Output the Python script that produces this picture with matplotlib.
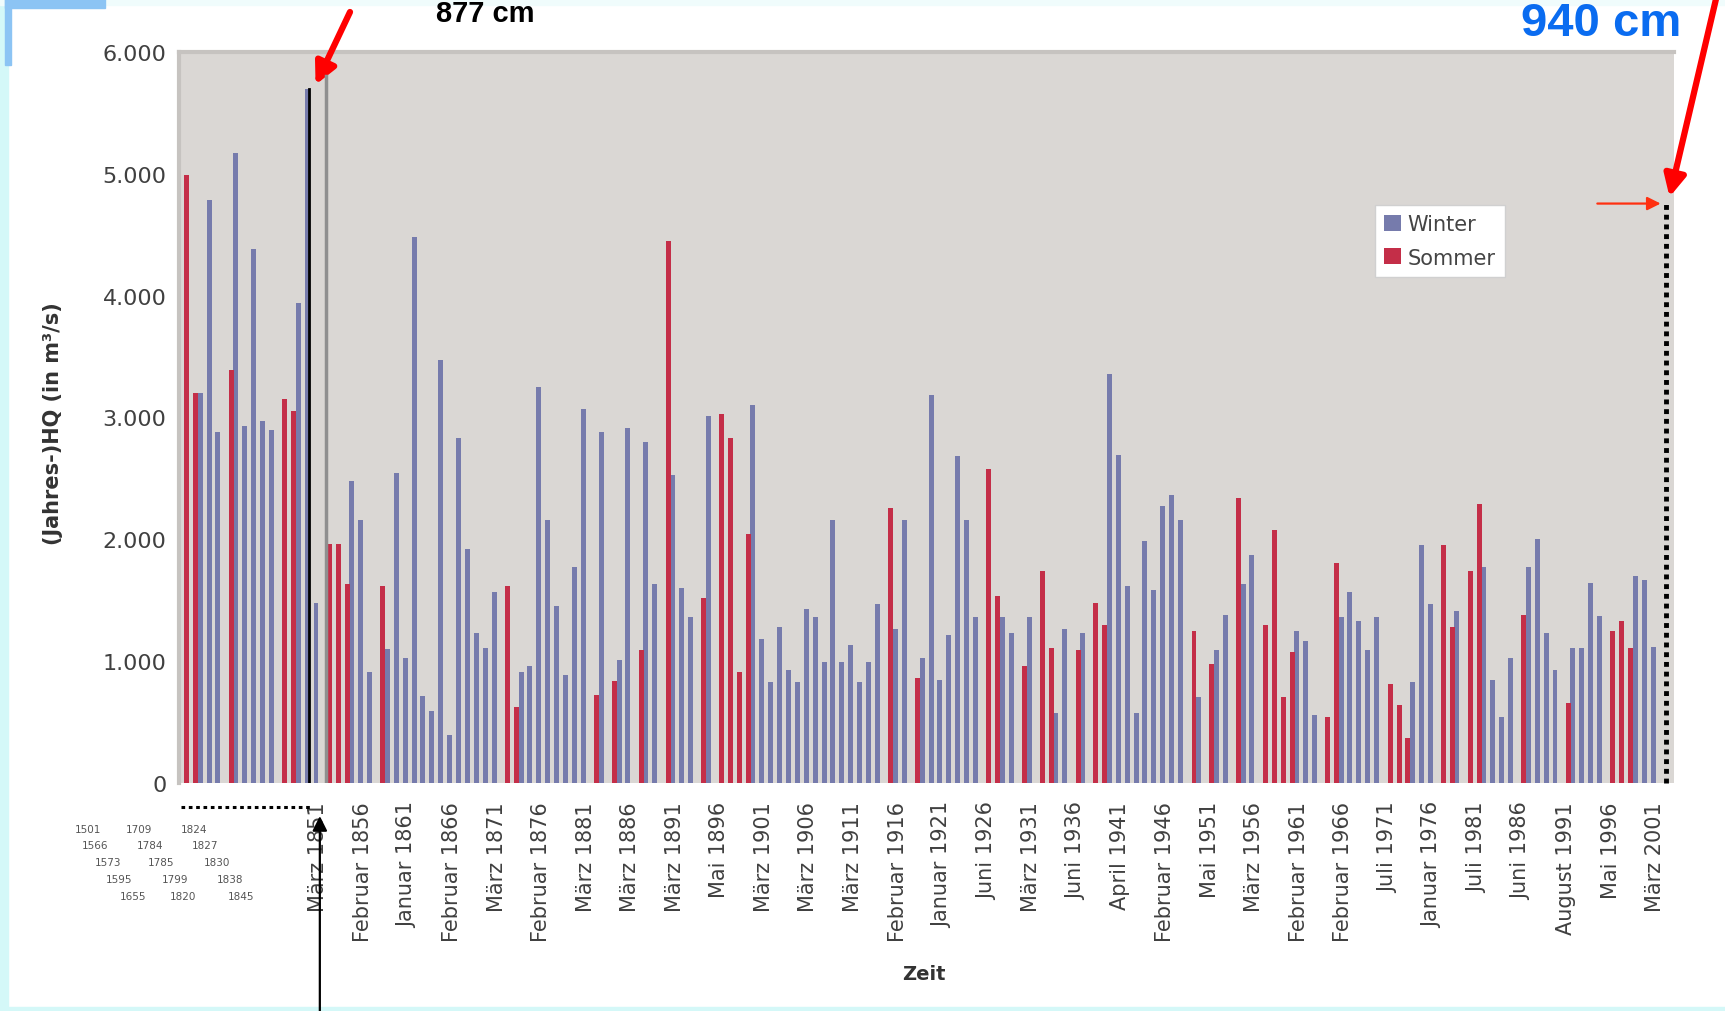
import matplotlib
matplotlib.use("Agg")
import matplotlib.pyplot as plt
from matplotlib.patches import Rectangle

# ---------------- data ----------------
# historical floods (first 15 categories)
hist_labels = ["1501", "1566", "1573", "1595", "1655",
               "1709", "1784", "1785", "1799", "1820",
               "1824", "1827", "1830", "1838", "1845"]
hist_values = [4990, 3200, 3200, 4785, 2880, 3390, 5170, 2930, 4380, 2970,
               2900, 3150, 3050, 3940, 5700]
hist_season = ["S", "S", "W", "W", "W", "S", "W", "W", "W", "W",
               "W", "S", "S", "W", "W"]

# systematic series 1851-2001 (annual maximum discharge, m3/s)
main_years = list(range(1851, 2002))
main_values = [
    1480, 1960, 1960, 1630, 2480, 2160, 910, 1620, 1100, 2545,
    1030, 4480, 710, 590, 3470, 390, 2830, 1920, 1230, 1110,
    1570, 1620, 620, 910, 960, 3250, 2160, 1450, 890, 1770,
    3070, 725, 2880, 840, 1010, 2915, 1095, 2800, 1635, 4450,
    2530, 1600, 1365, 1515, 3015, 3030, 2830, 910, 2040, 3100,
    1180, 825, 1280, 930, 826, 1430, 1365, 990, 2160, 994,
    1130, 826, 994, 1466, 2258, 1264, 2157, 860, 1030, 3185,
    843, 1213, 2680, 2157, 1365, 2578, 1533, 1365, 1230, 960,
    1365, 1736, 1112, 573, 1264, 1095, 1230, 1480, 1300, 3353,
    2696, 1618, 573, 1990, 1584, 2275, 2360, 2157, 1247, 708,
    977, 1095, 1382, 2342, 1634, 1870, 1297, 2073, 708, 1078,
    1247, 1163, 556, 539, 1803, 1365, 1567, 1331, 1095, 1365,
    809, 640, 371, 826, 1955, 1466, 1955, 1281, 1415, 1736,
    2292, 1770, 843, 539, 1028, 1382, 1770, 2005, 1230, 927,
    660, 1110, 1110, 1640, 1370, 1250, 1330, 1110, 1700, 1670, 1120]
main_season = list(
    "WSSSWWWSWW"
    "WWWWWWWWWW"
    "WSSWWWWWWW"
    "WSWSWWSWWS"
    "WWWSWSSSSW"
    "WWWWWWWWWW"
    "WWWWSWWSWW"
    "WWWWWSSWWS"
    "WSSWWSWSSW"
    "WWWWWWWWSW"
    "SWWSWWSSSS"
    "WWWSSWWWWW"
    "SSSWWWSSWS"
    "SWWWWSWWWW"
    "SWWWWSSSWWW")
flood_2002 = 4770

tick_labels = ["März 1851", "Februar 1856", "Januar 1861", "Februar 1866",
               "März 1871", "Februar 1876", "März 1881", "März 1886",
               "März 1891", "Mai 1896", "März 1901", "März 1906",
               "März 1911", "Februar 1916", "Januar 1921", "Juni 1926",
               "März 1931", "Juni 1936", "April 1941", "Februar 1946",
               "Mai 1951", "März 1956", "Februar 1961", "Februar 1966",
               "Juli 1971", "Januar 1976", "Juli 1981", "Juni 1986",
               "August 1991", "Mai 1996", "März 2001"]
y_ticks = [0, 1000, 2000, 3000, 4000, 5000, 6000]

# ---------------- build ----------------
values = hist_values + main_values
season = hist_season + main_season
n_hist = len(hist_values)
idx = list(range(len(values)))
idx_2002 = len(values)

win_x = [i - 0.25 for i in idx if season[i] == "W"]
win_v = [values[i] for i in idx if season[i] == "W"]
sum_x = [i + 0.25 for i in idx if season[i] == "S"]
sum_v = [values[i] for i in idx if season[i] == "S"]

W, H = 1725, 1012
fig = plt.figure(figsize=(W / 100, H / 100), dpi=100)
fig.patch.set_facecolor("white")

# slide decorations
fig.add_artist(Rectangle((0, 0), 8 / W, 1, transform=fig.transFigure,
                         color="#d4f8f8", zorder=0))
fig.add_artist(Rectangle((0, 0), 1, 4 / H, transform=fig.transFigure,
                         color="#d4f8f8", zorder=0))
fig.add_artist(Rectangle((0, 1 - 6 / H), 1, 6 / H, transform=fig.transFigure,
                         color="#f0fcfc", zorder=0))
fig.add_artist(Rectangle((5 / W, 1 - 9 / H), 100 / W, 9 / H, transform=fig.transFigure,
                         color="#8cc4f4", zorder=1))
fig.add_artist(Rectangle((5 / W, 1 - 66 / H), 6 / W, 66 / H, transform=fig.transFigure,
                         color="#8cc4f4", zorder=1))

ax_left, ax_right, ax_top, ax_bot = 179, 1674, 53, 784
ax = fig.add_axes([ax_left / W, 1 - ax_bot / H, (ax_right - ax_left) / W,
                   (ax_bot - ax_top) / H])
ax.set_facecolor("#dad7d4")

winter_c = "#767bac"
summer_c = "#c42e48"
bw = ax.bar(win_x, win_v, width=0.56, color=winter_c, linewidth=0, label="Winter")
bs = ax.bar(sum_x, sum_v, width=0.56, color=summer_c, linewidth=0, label="Sommer")

ax.set_xlim(-0.62, 167.1)
ax.set_ylim(0, 6000)

ax.set_yticks(y_ticks)
ax.set_yticklabels([f"{v:,}".replace(",", ".") for v in y_ticks])
tick_idx = list(range(n_hist, n_hist + len(main_values), 5))
ax.set_xticks(tick_idx)
ax.set_xticklabels(tick_labels, rotation=90, va="top", ha="center")
ax.tick_params(axis="x", length=0, pad=13, labelsize=15, colors="#404040")
ax.tick_params(axis="y", length=0, pad=9, labelsize=16, colors="#404040")

for s in ["right", "bottom"]:
    ax.spines[s].set_visible(False)
for s in ["top", "left"]:
    ax.spines[s].set_color("#c6c3c0")
    ax.spines[s].set_linewidth(3)

ax.set_ylabel("(Jahres-)HQ (in m³/s)", fontsize=15, fontweight="bold", color="#333333")
ax.yaxis.set_label_coords(-0.0776, 0.493)
fig.text(924 / W, 1 - 975 / H, "Zeit", fontsize=14, fontweight="bold",
         color="#333333", ha="center", va="center")

# early historic labels, staggered
col_x = [[88, 95, 108, 119, 133], [139, 150, 161, 175, 183], [194, 205, 217, 230, 241]]
row_y = [830, 846, 863, 880, 897]
for c in range(3):
    for r in range(5):
        fig.text(col_x[c][r] / W, 1 - row_y[r] / H, hist_labels[c * 5 + r],
                 fontsize=7.5, color="#555555", ha="center", va="center")

# 1845 marker line and separator
ax.plot([13.95, 13.95], [0, values[14]], color="black", lw=2, zorder=5)
ax.plot([15.9, 15.9], [0, 5800], color="#8f8f8f", lw=2.5, zorder=4)

# 2002 flood as dotted bar outline
ax.plot([idx_2002 + 0.2, idx_2002 + 0.2], [0, flood_2002], color="black", lw=3.5,
        ls=(0, (1, 1)), clip_on=False, zorder=6)

# dotted line under historical part
ax.plot([-0.4, 14.4], [-200, -200], color="black", lw=2.2, ls=(0, (1.2, 1.2)),
        clip_on=False, zorder=6)

# arrows
ax.annotate("", xy=(14.7, 5731), xycoords="data",
            xytext=(350 / W, 1 - 13 / H), textcoords="figure fraction",
            arrowprops=dict(arrowstyle="-|>", color="#ff0000", lw=4.5,
                            mutation_scale=32, shrinkA=0, shrinkB=0),
            annotation_clip=False)
ax.annotate("", xy=(166.6, 4810), xycoords="data",
            xytext=(1716 / W, 1.0), textcoords="figure fraction",
            arrowprops=dict(arrowstyle="-|>", color="#ff0000", lw=4.5,
                            mutation_scale=32, shrinkA=0, shrinkB=0),
            annotation_clip=False)
ax.annotate("", xy=(165.6, 4756), xycoords="data",
            xytext=(158.5, 4756), textcoords="data",
            arrowprops=dict(arrowstyle="-|>", color="#ff3010", lw=1.6,
                            mutation_scale=20, shrinkA=0, shrinkB=0),
            annotation_clip=False)
ax.annotate("", xy=(15.18, -271), xycoords="data",
            xytext=(15.18, 0.0), textcoords=("data", "figure fraction"),
            arrowprops=dict(arrowstyle="-|>", color="black", lw=1.6,
                            mutation_scale=22, shrinkA=0, shrinkB=0),
            annotation_clip=False)

# annotation texts
fig.text(485 / W, 1 - 22 / H, "877 cm", fontsize=21, fontweight="bold",
         family=["Liberation Sans", "DejaVu Sans"], color="black",
         ha="center", va="baseline")
fig.text(1681 / W, 1 - 36 / H, "940 cm", fontsize=34, fontweight="bold",
         family=["Liberation Sans", "DejaVu Sans"], color="#0a6cf0",
         ha="right", va="baseline")

leg = ax.legend(handles=[bw, bs], labels=["Winter", "Sommer"], loc="upper left",
                bbox_to_anchor=(0.8, 0.791), fontsize=15, frameon=True,
                fancybox=False, edgecolor="#d0d0d0", facecolor="white",
                framealpha=1, handlelength=0.8, handleheight=0.8,
                handletextpad=0.3, labelspacing=0.65, borderpad=0.45,
                borderaxespad=0)
for t in leg.get_texts():
    t.set_color("#444444")

fig.savefig("out.png", dpi=100)
